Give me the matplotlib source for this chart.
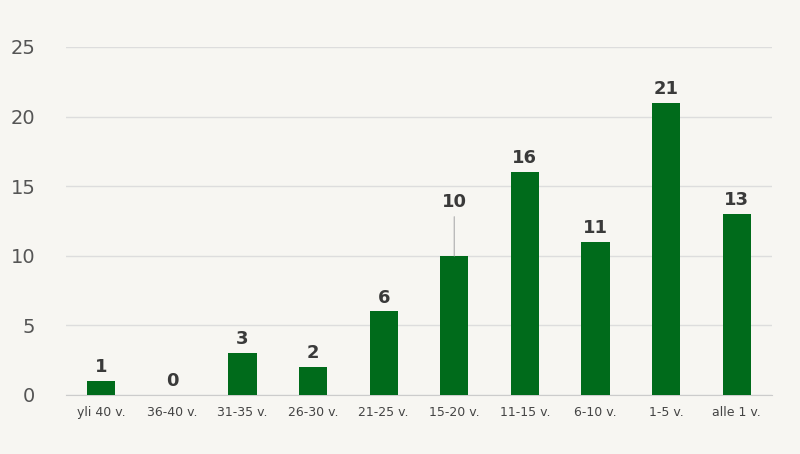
import matplotlib

matplotlib.use("Agg")
import matplotlib.pyplot as plt

categories = ["yli 40 v.", "36-40 v.", "31-35 v.", "26-30 v.", "21-25 v.",
              "15-20 v.", "11-15 v.", "6-10 v.", "1-5 v.", "alle 1 v."]
values = [1, 0, 3, 2, 6, 10, 16, 11, 21, 13]
yticks = [0, 5, 10, 15, 20, 25]

bg = "#f7f6f2"
fig = plt.figure(figsize=(8, 4.54), dpi=100, facecolor=bg)
ax = fig.add_axes([0.0825, 0.13, 0.8825, 0.7665], facecolor=bg)

x = range(len(categories))
ax.bar(x, values, width=0.4, color="#006b1b", zorder=3)

for i, v in enumerate(values):
    if v == 10:
        ax.annotate(str(v), xy=(i, v), xytext=(i, v + 3.2), ha="center", va="bottom",
                    fontsize=13, fontweight="bold", color="#3a3a3a",
                    arrowprops=dict(arrowstyle="-", color="#bbbbbb", lw=1, shrinkA=2, shrinkB=0))
    else:
        ax.text(i, v + 0.35, str(v), ha="center", va="bottom",
                fontsize=13, fontweight="bold", color="#3a3a3a")

ax.set_xlim(-0.5, len(categories) - 0.5)
ax.set_ylim(0, 25)
ax.set_yticks(yticks)
ax.set_xticks(list(x))
ax.set_xticklabels(categories, fontsize=9, color="#444444")
ax.tick_params(axis="y", labelsize=14, colors="#555555", length=0, pad=22)
ax.tick_params(axis="x", length=0, pad=8)
ax.grid(axis="y", color="#dddddd", linewidth=1, zorder=0)
for s in ["top", "right", "left"]:
    ax.spines[s].set_visible(False)
ax.spines["bottom"].set_color("#cccccc")

fig.savefig("out.png", dpi=100, facecolor=bg)
